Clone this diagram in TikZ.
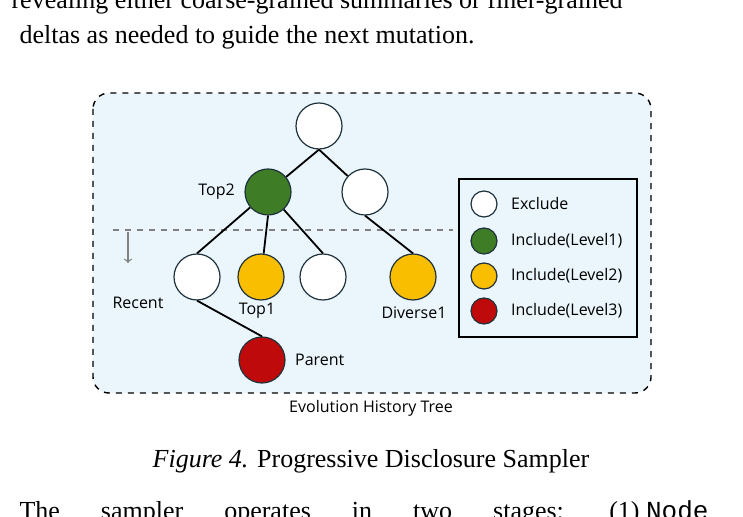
\documentclass[tikz,border=0pt]{standalone}
\usepackage{fontspec}
\setmainfont{Liberation Serif}
\newfontfamily\diafont{Open Sans}
\setmonofont{Liberation Mono}
\usetikzlibrary{positioning}
\definecolor{bgblue}{RGB}{235,245,252}
\definecolor{lvlone}{RGB}{62,124,38}
\definecolor{lvltwo}{RGB}{250,190,0}
\definecolor{lvlthree}{RGB}{190,10,10}
\definecolor{ringcol}{RGB}{30,50,60}

\begin{document}
\begin{tikzpicture}[x=0.5pt, y=-0.5pt, line width = 0.9pt,
                    excl/.style = {circle, draw = ringcol, line width = 0.6pt, fill = white, minimum size = 23pt, inner sep = 0pt},
                    lone/.style = {excl, fill = lvlone},
                    ltwo/.style = {excl, fill = lvltwo},
                    lthree/.style = {excl, fill = lvlthree},
                    key/.style = {circle, draw = ringcol, line width = 0.6pt, minimum size = 13pt, inner sep = 0pt},
                    lab/.style = {font = \diafont\fontsize{8}{9}\selectfont},
                    body/.style = {font = \fontsize{13}{15}\selectfont}]
\useasboundingbox (0,0) rectangle (743,517);

% surrounding text
\node[body, anchor = west] (txtA) at (4,2) {revealing either coarse-grained summaries or finer-grained};
\node[body, anchor = west] (txtB) at (12,37) {deltas as needed to guide the next mutation.};
\node[body] (capt) at (371,461) {\textit{Figure 4.} Progressive Disclosure Sampler};
\node[body, anchor = west] (txtC) at (12,513) {The \hspace{14pt} sampler \hspace{14pt} operates \hspace{14pt} in \hspace{14pt} two \hspace{14pt} stages: \hspace{14pt} (1) \texttt{Node}};

% frame
\draw[dashed, line width = 0.7pt, fill = bgblue, rounded corners = 8pt] (93,93) rectangle (651,393);
\node[lab] (title) at (371,408) {Evolution History Tree};

% recent cut
\draw[dashed, gray, line width = 0.8pt] (113,230) -- (453,230);
\draw[->, gray, line width = 0.6pt] (128,232) -- (128,263);
\node[lab] (recent) at (138,303) {Recent};

% tree
\node [excl] (root) at (319,126) {};
\node [lone] (top2) at (268,192) {};
\node [excl] (right) at (365,192) {};
\node [excl] (a) at (197,277) {};
\node [ltwo] (top1) at (261,277) {};
\node [excl] (b) at (323,277) {};
\node [ltwo] (div) at (413,277) {};
\node [lthree] (par) at (262,360) {};

\draw (root.south) -- (top2);
\draw (root.south) -- (right);
\draw (top2) -- (a.north);
\draw (top2.south) -- (top1);
\draw (top2) -- (b.north);
\draw (right.south) -- (div.north);
\draw (a.south) -- (par.north);

\node[lab, left = 1pt of top2] {Top2};
\node[lab] at (257,311) {Top1};
\node[lab] at (414,313) {Diverse1};
\node[lab, right = 1pt of par] {Parent};

% legend
\draw[line width = 0.7pt] (459,179) rectangle (637,337);
\node [key, fill = white] (k1) at (484,204) {};
\node [key, fill = lvlone] (k2) at (484,241) {};
\node [key, fill = lvltwo] (k3) at (484,276) {};
\node [key, fill = lvlthree] (k4) at (484,311) {};
\node[lab, right = 3pt of k1] {Exclude};
\node[lab, right = 3pt of k2] {Include(Level1)};
\node[lab, right = 3pt of k3] {Include(Level2)};
\node[lab, right = 3pt of k4] {Include(Level3)};
\end{tikzpicture}
\end{document}
